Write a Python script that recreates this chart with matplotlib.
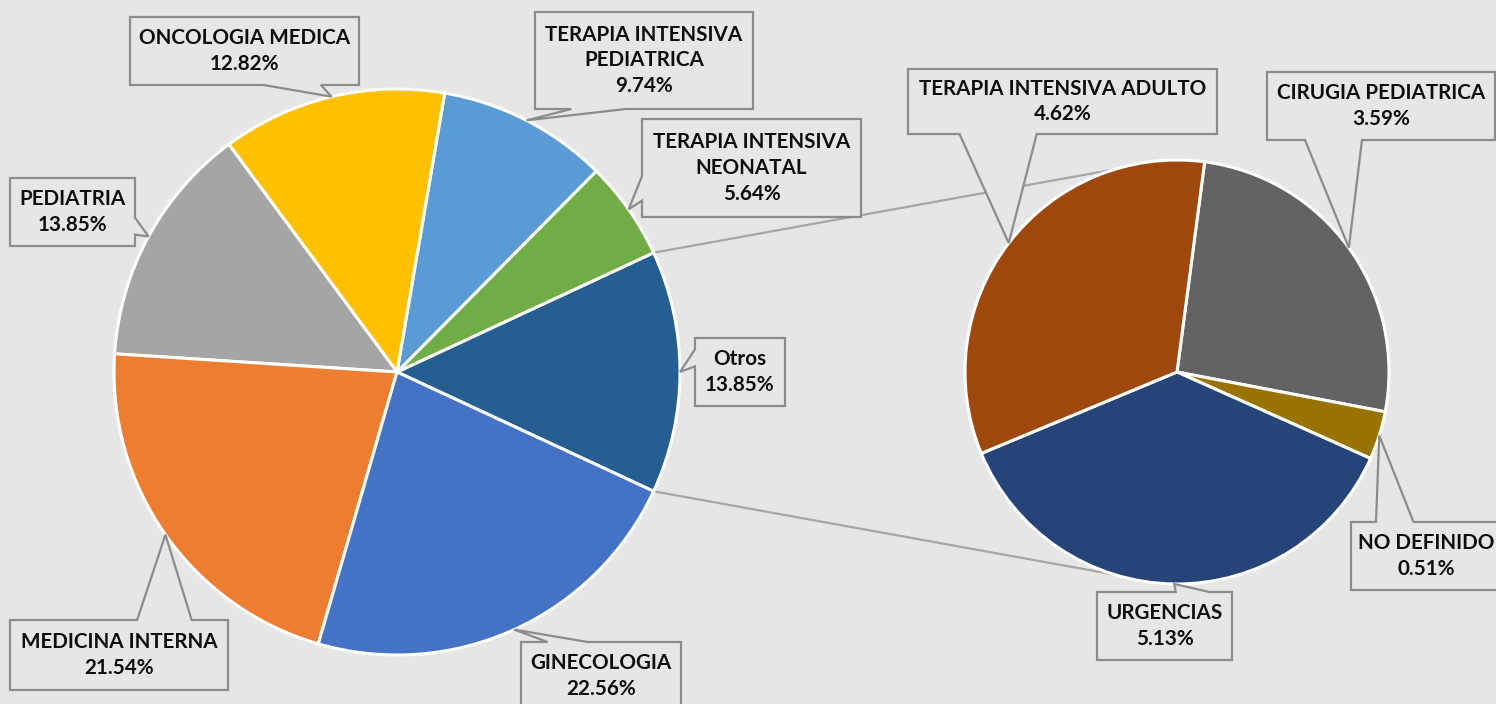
import matplotlib

matplotlib.use("Agg")

import matplotlib.pyplot as plt
import numpy as np
from matplotlib.patches import Polygon

# --- data (percent of all records) ---
main_labels = ["Otros", "TERAPIA INTENSIVA\nNEONATAL", "TERAPIA INTENSIVA\nPEDIATRICA",
               "ONCOLOGIA MEDICA", "PEDIATRIA", "MEDICINA INTERNA", "GINECOLOGIA"]
main_values = [13.85, 5.64, 9.74, 12.82, 13.85, 21.54, 22.56]
main_colors = ["#255E91", "#70AD47", "#5B9BD5", "#FFC000", "#A5A5A5", "#ED7D31", "#4472C4"]

# breakdown of "Otros" shown in the secondary pie
sub_labels = ["CIRUGIA PEDIATRICA", "NO DEFINIDO", "URGENCIAS", "TERAPIA INTENSIVA ADULTO"]
sub_values = [3.59, 0.51, 5.13, 4.62]
sub_colors = ["#636363", "#997300", "#264478", "#9E480E"]

# --- layout (pixel coords, y measured from the top) ---
W, H = 1496, 704
BG = "#E6E6E6"
BOX_EDGE = "#8C8C8C"
MAIN_C, MAIN_R = (397, 372), 283
SUB_C, SUB_R = (1177, 372), 212
SUB_START = 82.5
LINK_ANGLE = 107  # where the series lines meet the secondary pie

# label boxes: left, top, right, bottom
main_boxes = [(695, 338, 785, 406), (642, 119, 861, 217), (535, 12, 753, 109),
              (130, 17, 359, 85), (10, 178, 135, 246), (10, 620, 228, 690),
              (521, 642, 681, 710)]
sub_boxes = [(1267, 72, 1495, 140), (1351, 522, 1501, 590), (1097, 592, 1232, 660),
             (908, 69, 1217, 134)]


def flip(y):
    return H - y


def callout(ax, box, tip, text):
    """Excel-style rectangular callout with a wedge pointing at tip."""
    left, top, right, bottom = box
    x0, x1 = left, right
    y0, y1 = flip(bottom), flip(top)
    w, h = x1 - x0, y1 - y0
    hc, vc = (x0 + x1) / 2, (y0 + y1) / 2
    tx, ty = tip
    dx, dy = tx - hc, ty - vc
    vertical = abs(dy) - abs(dx * h / w) > 0
    if dx > 0:
        bx1, bx2 = x0 + w * 7 / 12, x0 + w * 10 / 12
    else:
        bx1, bx2 = x0 + w * 2 / 12, x0 + w * 5 / 12
    if dy < 0:
        by_hi, by_lo = y1 - h * 7 / 12, y1 - h * 10 / 12
    else:
        by_hi, by_lo = y1 - h * 2 / 12, y1 - h * 5 / 12

    pts = [(x0, y1)]
    if vertical and dy > 0:
        pts += [(bx1, y1), (tx, ty), (bx2, y1)]
    pts.append((x1, y1))
    if not vertical and dx > 0:
        pts += [(x1, by_hi), (tx, ty), (x1, by_lo)]
    pts.append((x1, y0))
    if vertical and dy <= 0:
        pts += [(bx2, y0), (tx, ty), (bx1, y0)]
    pts.append((x0, y0))
    if not vertical and dx <= 0:
        pts += [(x0, by_lo), (tx, ty), (x0, by_hi)]

    ax.add_patch(Polygon(pts, closed=True, facecolor=BG, edgecolor=BOX_EDGE,
                         linewidth=1.6, joinstyle="miter", zorder=5))
    ax.text(hc, vc, text, ha="center", va="center", family=["Lato", "DejaVu Sans"],
            fontweight="bold", fontsize=14.9, color="#0D0D0D", linespacing=1.36,
            zorder=6)


def edge_point(center, r, angle):
    a = np.deg2rad(angle)
    return center[0] + r * np.cos(a), center[1] + r * np.sin(a)


fig = plt.figure(figsize=(W / 100, H / 100), dpi=100, facecolor=BG)
ax = fig.add_axes([0, 0, 1, 1])
ax.set_facecolor(BG)

main_center = (MAIN_C[0], flip(MAIN_C[1]))
sub_center = (SUB_C[0], flip(SUB_C[1]))

otros_half = main_values[0] / sum(main_values) * 360 / 2
main_wedges, _ = ax.pie(main_values, colors=main_colors, center=main_center,
                        radius=MAIN_R, startangle=-otros_half, counterclock=True,
                        wedgeprops=dict(edgecolor="white", linewidth=2.2))
sub_wedges, _ = ax.pie(sub_values, colors=sub_colors, center=sub_center,
                       radius=SUB_R, startangle=SUB_START, counterclock=False,
                       wedgeprops=dict(edgecolor="white", linewidth=2.2))

# series lines joining "Otros" to the secondary pie (drawn beneath the pies)
for sign in (1, -1):
    p0 = edge_point(main_center, MAIN_R, sign * otros_half)
    p1 = edge_point(sub_center, SUB_R, sign * LINK_ANGLE)
    ax.plot([p0[0], p1[0]], [p0[1], p1[1]], color="#A6A6A6", lw=1.6, zorder=0)

for wedge, label, value, box in zip(main_wedges, main_labels, main_values, main_boxes):
    mid = (wedge.theta1 + wedge.theta2) / 2
    callout(ax, box, edge_point(main_center, MAIN_R, mid), f"{label}\n{value:.2f}%")

for wedge, label, value, box in zip(sub_wedges, sub_labels, sub_values, sub_boxes):
    mid = (wedge.theta1 + wedge.theta2) / 2
    callout(ax, box, edge_point(sub_center, SUB_R, mid), f"{label}\n{value:.2f}%")

ax.set_xlim(0, W)
ax.set_ylim(0, H)
ax.set_aspect("auto")
ax.axis("off")

fig.savefig("out.png", dpi=100, facecolor=BG)
